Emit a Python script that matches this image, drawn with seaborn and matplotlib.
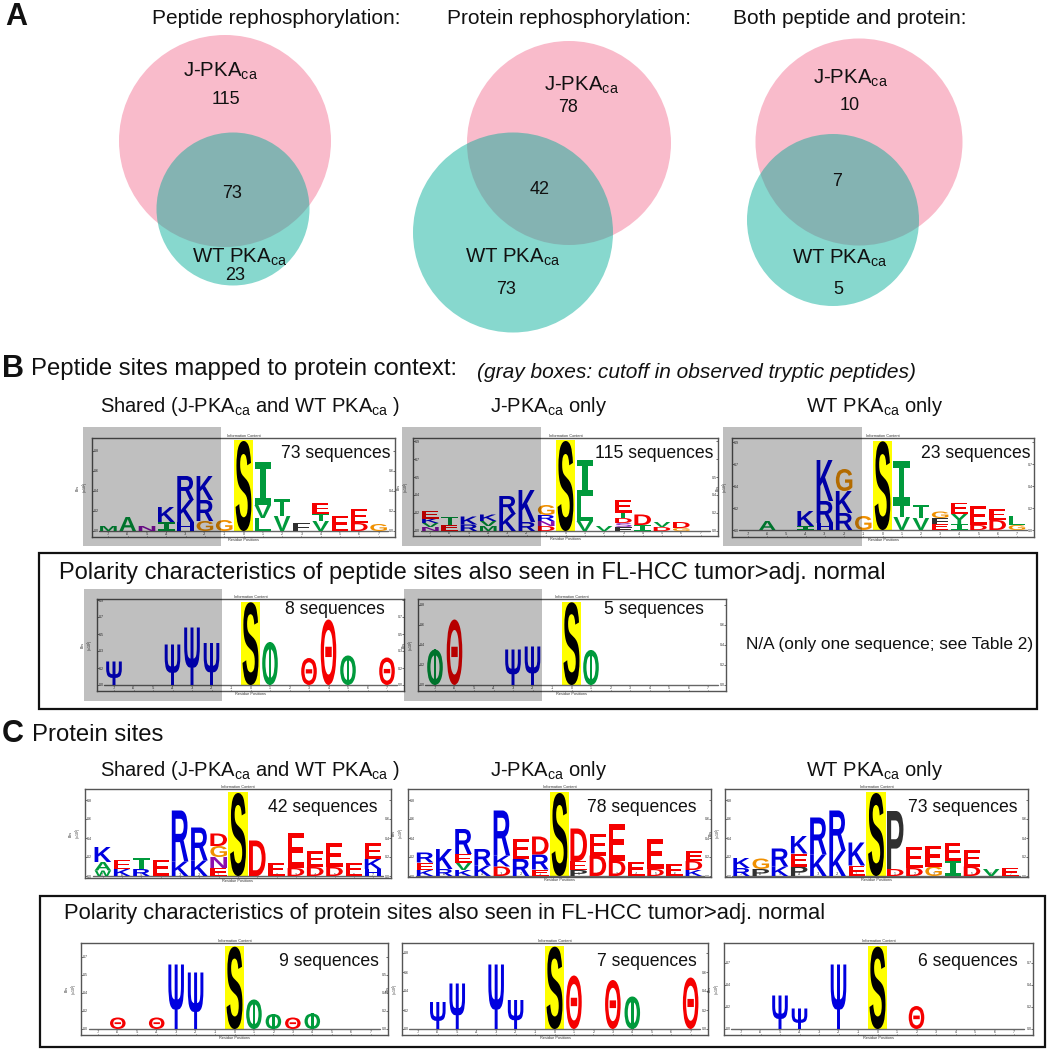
import matplotlib
matplotlib.use("Agg")
import matplotlib.pyplot as plt
from matplotlib.patches import Circle, PathPatch, Rectangle
from matplotlib.textpath import TextPath
from matplotlib.font_manager import FontProperties
from matplotlib.transforms import Affine2D
import seaborn as sns

sns.set_theme(style="white")
plt.rcParams["font.family"] = ["Liberation Sans", "DejaVu Sans"]
plt.rcParams["mathtext.fontset"] = "custom"
plt.rcParams["mathtext.rm"] = "Liberation Sans"
plt.rcParams["mathtext.it"] = "Liberation Sans:italic"
plt.rcParams["mathtext.bf"] = "Liberation Sans:bold"

# ---------- Venn counts ----------
VENN_TITLES = ["Peptide rephosphorylation:", "Protein rephosphorylation:", "Both peptide and protein:"]
J_ONLY = [115, 78, 10]
SHARED = [73, 42, 7]
WT_ONLY = [23, 73, 5]

# ---------- Logos: position -> stack of (letter, bits), bottom to top ----------
PEP_SHARED = {-7: [("M", .05)], -6: [("A", .14)], -5: [("N", .05)], -4: [("I", .09), ("K", .15)],
              -3: [("H", .09), ("K", .22), ("R", .24)], -2: [("G", .10), ("R", .21), ("K", .24)],
              -1: [("G", .11)], 0: [("S", .90)], 1: [("L", .13), ("V", .13), ("I", .43)],
              2: [("V", .15), ("T", .17)], 3: [("F", .08)], 4: [("V", .10), ("T", .07), ("E", .11)],
              5: [("E", .15)], 6: [("D", .08), ("E", .14)], 7: [("G", .07)]}
PEP_J = {-7: [("N", .04), ("V", .04), ("K", .045), ("E", .08)], -6: [("E", .065), ("T", .075)],
         -5: [("R", .065), ("K", .08)], -4: [("M", .05), ("V", .05), ("K", .065)],
         -3: [("K", .17), ("R", .18)], -2: [("R", .09), ("K", .32)],
         -1: [("D", .05), ("N", .05), ("R", .06), ("G", .10)], 0: [("S", .90)],
         1: [("V", .10), ("L", .25), ("I", .36)], 2: [("V", .05)],
         3: [("F", .04), ("s", .04), ("D", .05), ("T", .055), ("E", .13)], 4: [("I", .06), ("D", .105)],
         5: [("D", .04), ("V", .05)], 6: [("G", .03), ("D", .06)]}
PEP_WT = {-6: [("A", .09)], -4: [("I", .04), ("K", .15)], -3: [("H", .07), ("R", .22), ("K", .41)],
          -2: [("R", .17), ("K", .22), ("G", .22)], -1: [("G", .14)], 0: [("S", .887)],
          1: [("V", .13), ("T", .13), ("I", .43)], 2: [("V", .12), ("T", .13)],
          3: [("E", .06), ("F", .06), ("G", .065)], 4: [("I", .06), ("Y", .10), ("E", .115)],
          5: [("D", .05), ("E", .19)], 6: [("D", .10), ("E", .11)], 7: [("G", .05), ("L", .09)]}
PEP_POL_SHARED = {-7: [("Ψ", .235)], -4: [("Ψ", .405)], -3: [("Ψ", .575)], -2: [("Ψ", .42)],
                  0: [("S", .827)], 1: [("Φ", .43)], 3: [("Θ", .27)], 4: [("Θ", .655)],
                  5: [("Φ", .295)], 7: [("Θ", .275)]}
PEP_POL_J = {-7: [("Φ", .355)], -6: [("Θ", .655)], -3: [("Ψ", .355)], -2: [("Ψ", .385)],
             0: [("S", .827)], 1: [("Φ", .35)]}
PRO_SHARED = {-7: [("W", .055), ("A", .085), ("K", .15)], -6: [("K", .07), ("E", .09)],
              -5: [("R", .07), ("T", .11)], -4: [("E", .165)], -3: [("K", .145), ("R", .51)],
              -2: [("K", .155), ("R", .33)], -1: [("E", .08), ("N", .11), ("G", .11), ("D", .125)],
              0: [("S", .83)], 1: [("D", .355)], 2: [("E", .13)], 3: [("D", .08), ("E", .355)],
              4: [("D", .09), ("E", .16)], 5: [("D", .09), ("E", .24)], 6: [("E", .13)],
              7: [("H", .07), ("K", .10), ("E", .16)]}
PRO_J = {-7: [("K", .06), ("E", .075), ("R", .10)], -6: [("R", .07), ("K", .20)],
         -5: [("K", .06), ("V", .075), ("E", .085), ("R", .25)], -4: [("K", .105), ("R", .165)],
         -3: [("D", .095), ("K", .11), ("R", .45)], -2: [("R", .17), ("E", .20)],
         -1: [("E", .065), ("R", .15), ("D", .18)], 0: [("S", .83)],
         1: [("P", .06), ("E", .09), ("D", .325)], 2: [("D", .205), ("E", .215)],
         3: [("D", .155), ("E", .365)], 4: [("E", .145)], 5: [("D", .07), ("E", .30)], 6: [("E", .12)],
         7: [("K", .06), ("D", .09), ("E", .10)]}
PRO_WT = {-7: [("R", .08), ("K", .10)], -6: [("P", .07), ("G", .105)], -5: [("K", .095), ("R", .18)],
          -4: [("P", .095), ("E", .13), ("K", .175)], -3: [("K", .215), ("R", .37)],
          -2: [("K", .25), ("R", .405)], -1: [("E", .105), ("K", .23)], 0: [("S", .83)],
          1: [("D", .07), ("P", .58)], 2: [("D", .08), ("E", .21)], 3: [("G", .095), ("E", .21)],
          4: [("I", .155), ("E", .175)], 5: [("D", .095), ("E", .165)], 6: [("V", .07)], 7: [("E", .08)]}
PRO_POL_SHARED = {-6: [("Θ", .115)], -4: [("Θ", .115)], -3: [("Ψ", .645)], -2: [("Ψ", .565)],
                  0: [("S", .823)], 1: [("Φ", .295)], 2: [("Φ", .15)], 3: [("Θ", .115)], 4: [("Φ", .155)]}
PRO_POL_J = {-6: [("Ψ", .27)], -5: [("Ψ", .455)], -3: [("Ψ", .645)], -2: [("Ψ", .29)],
             0: [("S", .823)], 1: [("Θ", .535)], 3: [("Θ", .49)], 4: [("Φ", .325)], 7: [("Θ", .515)]}
PRO_POL_WT = {-5: [("Ψ", .335)], -4: [("Ψ", .205)], -2: [("Ψ", .645)], 0: [("S", .823)], 2: [("Θ", .23)]}

COUNTS = [73, 115, 23, 8, 5, 42, 78, 73, 9, 7, 6]

COLORS = {**dict.fromkeys("KRHΨ", "#0000E0"), **dict.fromkeys("DEΘ", "#F50000"),
          **dict.fromkeys("TVLAIYMWΦ", "#009A3C"), "G": "#F09000", "N": "#8A10B0",
          "F": "#303030", "P": "#303030", "S": "#000000", "s": "#9030C0"}
YELLOW = "#FFFF00"
PINK, TEAL = "#F9BBCB", "#00AC97"

FONT = FontProperties(family="Liberation Sans", weight="bold")
FONT_I = FontProperties(family="DejaVu Sans Mono", weight="bold")
FW = 1050
FH = 1049

fig = plt.figure(figsize=(FW / 100, FH / 100), dpi=100, facecolor="white")


def glyph(ax, ch, col, x, y0, h, width):
    tp = TextPath((0, 0), ch, size=10, prop=FONT_I if ch == "I" else FONT)
    b = tp.get_extents()
    tr = Affine2D().translate(-b.x0, -b.y0).scale(width / b.width, h / b.height).translate(x - width / 2, y0)
    ax.add_patch(PathPatch(tp, transform=tr + ax.transData, fc=col, ec="none", lw=0, zorder=3))


def letter(ax, ch, x, y0, h):
    col = COLORS[ch]
    if ch == "Φ":                       # ellipse with a bar, as the logo program draws it
        glyph(ax, "O", col, x, y0, h, 0.8)
        glyph(ax, "|", col, x, y0, h, 0.14)
    elif ch == "s":
        glyph(ax, "S", col, x, y0, h, 0.86)
    elif ch == "S":
        glyph(ax, "S", col, x, y0, h, 0.82)
    else:
        glyph(ax, ch, col, x, y0, h, 0.8 if ch in "ΨΘ" else 0.86)


def logo(data, left, right, top, bottom, base, center, step, tick_step):
    ax = fig.add_axes([left / FW, 1 - bottom / FH, (right - left) / FW, (bottom - top) / FH], zorder=1)
    s_h = data[0][0][1]
    sns.barplot(x=[0], y=[s_h + .006], native_scale=True, width=1.0, color=YELLOW, saturation=1,
                linewidth=0, ax=ax, zorder=1)
    sns.lineplot(x=[-7.5, 7.5], y=[0, 0], color="#666666", lw=1, errorbar=None, ax=ax, zorder=2)
    for pos, stack in data.items():
        y = 0
        for ch, h in stack:
            letter(ax, ch, pos, y, h)
            y += h
    ax.set_xlim((left - center) / step, (right - center) / step)
    ax.set_ylim(-(bottom - base) / 100, (base - top) / 100)
    ax.set_xticks(range(-7, 8))
    ax.set_xticklabels([str(i) for i in range(-7, 8)])
    yt = [i * tick_step for i in range(0, int((base - top) / 100 / tick_step) + 1)]
    ax.set_yticks(yt)
    ax.set_yticklabels([f"{v:.1f}" for v in yt])
    ax.tick_params(axis="y", labelsize=2.6, length=1.2, width=.5, pad=-4.6, colors="#333333",
                   direction="in", left=True, right=True, labelright=True)
    ax.tick_params(axis="x", labelsize=2.6, length=1.0, width=.5, pad=-3.4, colors="#333333",
                   direction="in", bottom=True)
    # the count label covers the upper right of the frame: no right tick label under it
    for tick, v in zip(ax.yaxis.get_major_ticks(), yt):
        if v > .68:
            tick.label2.set_visible(False)
    ax.set_xlabel("Residue Positions", fontsize=2.8, labelpad=.6, color="#333333")
    ax.set_ylabel("Bits\n(x10$^1$)", fontsize=2.6, labelpad=.5, color="#333333")
    ax.set_title("Information Content", fontsize=2.8, pad=1, color="#333333")
    for s in ax.spines.values():
        s.set_linewidth(1.0)
        s.set_color("#555555")


LAYOUT = [
    (PEP_SHARED, 92, 395, 438, 537, 531, 243.5, 19.3, .2),
    (PEP_J, 413, 718, 438, 536, 531, 565.5, 19.3, .18),
    (PEP_WT, 732, 1034, 438, 537, 530, 882.5, 19.2, .22),
    (PEP_POL_SHARED, 97, 404, 599, 691, 685, 250.5, 19.5, .17),
    (PEP_POL_J, 418, 726, 599, 691, 685, 571.5, 19.5, .2),
    (PRO_SHARED, 85, 391, 789, 878, 876, 238, 19.3, .19),
    (PRO_J, 408, 711, 789, 877, 876, 559.5, 19.2, .19),
    (PRO_WT, 725, 1028, 789, 877, 876, 876, 19.2, .19),
    (PRO_POL_SHARED, 81, 388, 943, 1035, 1029, 234.5, 19.45, .18),
    (PRO_POL_J, 402, 708, 943, 1035, 1029, 554.5, 19.45, .19),
    (PRO_POL_WT, 724, 1033, 943, 1035, 1029, 877.5, 19.5, .22),
]
for row in LAYOUT:
    logo(*row)

# ---------- overlay in pixel coordinates ----------
top = fig.add_axes([0, 0, 1, 1], zorder=5)
top.patch.set_alpha(0)
top.set_xlim(0, FW)
top.set_ylim(FH, 0)
top.axis("off")

VENN_GEOM = [((225, 141, 106), (233, 209, 76.5)), ((569, 143, 102), (513, 232.5, 100)), ((859, 142, 103.5), (833, 220, 86))]
for (p, g) in VENN_GEOM:
    top.add_patch(Circle(p[:2], p[2], fc=PINK, ec="none", zorder=1))
    top.add_patch(Circle(g[:2], g[2], fc=TEAL, alpha=.47, ec="none", zorder=2))

for x0, x1, y0, y1 in [(83, 221, 427, 546), (402, 541, 427, 546), (723, 862, 427, 546),
                       (84, 222, 589, 701), (404, 542, 589, 701)]:
    top.add_patch(Rectangle((x0, y0), x1 - x0, y1 - y0, fc="black", alpha=.25, ec="none", zorder=2))
for x0, x1, y0, y1 in [(39, 1037, 553, 709), (40, 1045, 896, 1047)]:
    top.add_patch(Rectangle((x0, y0), x1 - x0, y1 - y0, fc="none", ec="#111111", lw=1.6, zorder=3))

T = "#111111"
J = "J-PKA$_{\\mathrm{ca}}$"
W = "WT PKA$_{\\mathrm{ca}}$"


def txt(x, y, s, size=14, ha="center", **kw):
    top.text(x, y, s, fontsize=size, ha=ha, va="center", color=T, zorder=6, **kw)


for x, t in zip([276, 569, 850], VENN_TITLES):
    txt(x, 18, t, 15)
for (jx, jy), (nx, ny), v in zip([(221, 71), (582, 85), (851, 78)], [(226, 100), (568, 108), (850, 105)], J_ONLY):
    txt(jx, jy, J, 14.7)
    txt(nx, ny, str(v), 13)
for (nx, ny), v in zip([(232, 194), (540, 190), (837, 181)], SHARED):
    txt(nx, ny, str(v), 13)
for (jx, jy), (nx, ny), v in zip([(240, 257), (513, 257), (840, 258)], [(235, 276), (506, 289), (838, 290)], WT_ONLY):
    txt(jx, jy, W, 14.7)
    txt(nx, ny, str(v), 13)

txt(5, 17, "A", 22, ha="left", fontweight="bold")
txt(2, 369, "B", 22, ha="left", fontweight="bold")
txt(2, 734, "C", 22, ha="left", fontweight="bold")
txt(31, 369, "Peptide sites mapped to protein context:", 17.2, ha="left")
txt(477, 372, "(gray boxes: cutoff in observed tryptic peptides)", 15, ha="left", style="italic")
txt(32, 735, "Protein sites", 17.2, ha="left")
for y in (406, 770):
    txt(250, y, f"Shared ({J} and {W} )", 14.5)
    txt(549, y, f"{J} only", 14.5)
    txt(875, y, f"{W} only", 14.5)
txt(59, 573, "Polarity characteristics of peptide sites also seen in FL-HCC tumor>adj. normal", 17, ha="left")
txt(64, 914, "Polarity characteristics of protein sites also seen in FL-HCC tumor>adj. normal", 15.8, ha="left")
txt(746, 644, "N/A (only one sequence; see Table 2)", 12.4, ha="left")

COUNT_POS = [(336, 453), (654, 453), (976, 453), (335, 609), (654, 609), (323, 807), (642, 807), (963, 807),
             (329, 961), (647, 961), (968, 961)]
for (x, y), c in zip(COUNT_POS, COUNTS):
    txt(x, y, f"{c} sequences", 12.7)

fig.savefig("out.png", dpi=100)
